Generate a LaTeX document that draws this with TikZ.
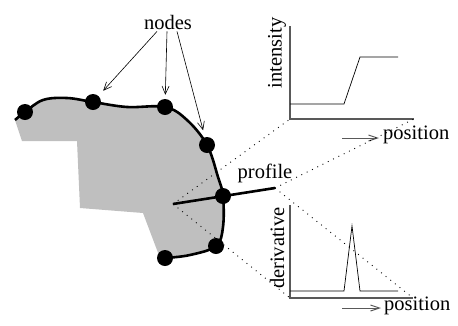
\documentclass[tikz,border=0pt]{standalone}
\usepackage{fontspec}
\setmainfont{Liberation Serif}
\usetikzlibrary{arrows.meta}
\begin{document}
\begin{tikzpicture}[x=1pt,y=-1pt,
  every node/.style={font=\fontsize{20.5}{24}\selectfont, inner sep=0pt},
  dotnode/.style={circle, fill=black, minimum size=16pt},
  pointer/.style={-{Straight Barb[length=8pt,width=7pt]}, line width=0.6pt},
  axis/.style={draw=black!65, line width=1.3pt},
  signal/.style={line width=0.7pt},
  guide/.style={line width=0.9pt, dash pattern=on 0.9pt off 5pt},
  dirarrow/.style={-{Straight Barb[length=9pt,width=6pt]}, line width=1pt, draw=black!65}]
\useasboundingbox (0,0) rectangle (458,325);

% outline of the object and its shaded interior
\def\outline{(15,120) (25,112) (43,100) (67,98) (93,102) (127,107) (165,107)
  (187,120) (207,145) (218,177) (223,196) (223,227) (216,246) (190,255) (165,258)}
\fill[black!25] plot[smooth, tension=0.6] coordinates {\outline}
  -- (160,258) -- (143,213) -- (80,208) -- (77,141) -- (22,141) -- cycle;
\draw[line width=2.6pt] plot[smooth, tension=0.6] coordinates {\outline};

% profile line across the boundary
\coordinate (ps) at (173,204);
\coordinate (pe) at (275,188);
\draw[line width=2.6pt] (ps) -- (pe);

% nodes on the boundary
\node[dotnode] (d1) at (25,112) {};
\node[dotnode] (d2) at (93,102) {};
\node[dotnode] (d3) at (165,107) {};
\node[dotnode] (d4) at (207,145) {};
\node[dotnode] (d5) at (223,196) {};
\node[dotnode] (d6) at (216,246) {};
\node[dotnode] (d7) at (165,258) {};

% label with pointers
\node (lbl) at (168,22) {nodes};
\draw[pointer, shorten >=7pt] ([xshift=-11pt,yshift=-2pt]lbl.south) -- (d2);
\draw[pointer, shorten >=4pt] ([xshift=-1pt,yshift=-2pt]lbl.south) -- (d3);
\draw[pointer, shorten >=7pt] ([xshift=9pt,yshift=-2pt]lbl.south) -- (d4);

\node (plbl) at (265,173) {profile};

% intensity plot
\coordinate (io) at (290,119);
\coordinate (ix) at (414,119);
\coordinate (iy) at (290,26);
\draw[axis] (iy) -- (io) -- (ix);
\draw[signal] (290,104) -- (344,104) -- (360,57) -- (398,57);
\node[rotate=90] (ilbl) at (277,53) {intensity};
\node[anchor=west] (ipos) at (383,135) {position};
\coordinate (ia) at (342,138);
\draw[dirarrow, shorten >=4pt] (ia) -- (ia -| ipos.west);

% derivative plot
\coordinate (do) at (290,298);
\coordinate (dx) at (413,298);
\coordinate (dy) at (290,205);
\draw[axis] (dy) -- (do) -- (dx);
\draw[signal] (290,291) -- (344,291) -- (352,226) -- (360,291) -- (398,291);
\node[rotate=90] (dlbl) at (277,248) {derivative};
\node[anchor=west] (dpos) at (384,306) {position};
\coordinate (da) at (342,308);
\draw[dirarrow, shorten >=3pt] (da) -- (da -| dpos.west);

% projection guides from the profile to the plots
\draw[guide] (ps) -- (io);
\draw[guide] (pe) -- (ix);
\draw[guide] (ps) -- (do);
\draw[guide] (pe) -- (dx);
\end{tikzpicture}
\end{document}
